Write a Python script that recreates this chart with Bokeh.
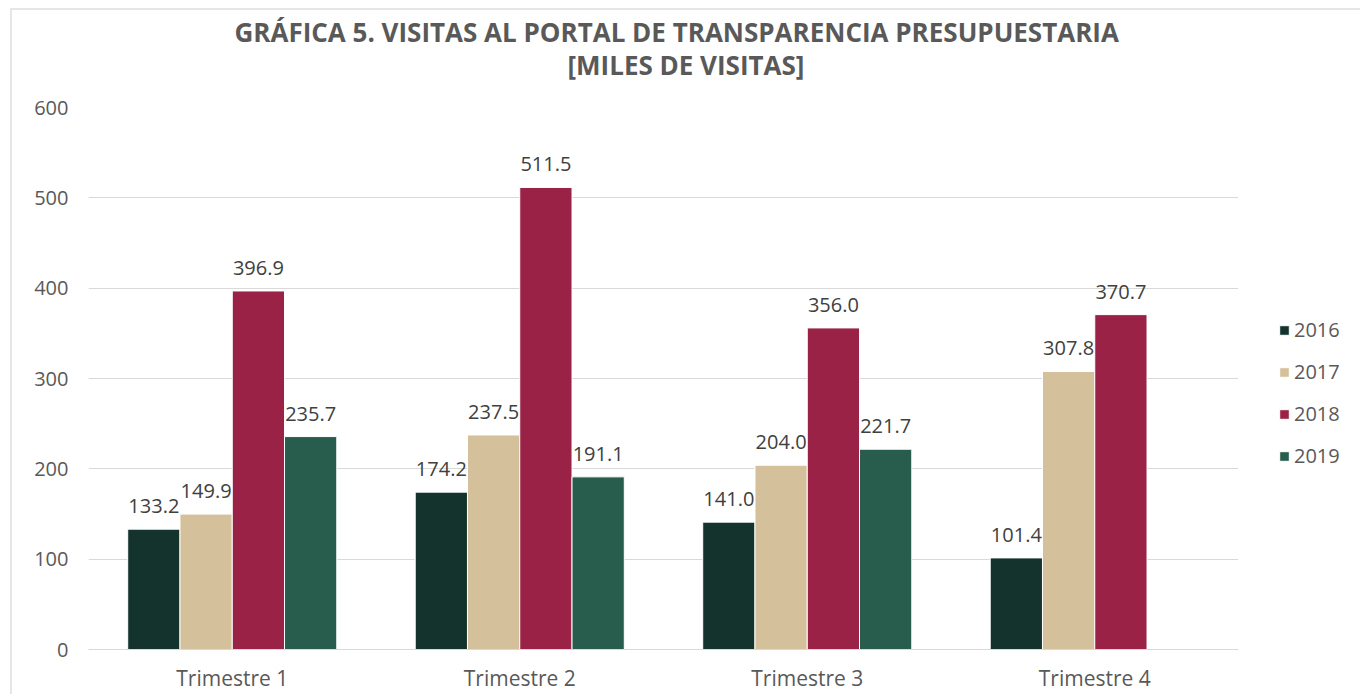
from bokeh.plotting import figure
from bokeh.models import ColumnDataSource, FactorRange, Legend, LegendItem, Title, FixedTicker, Range1d
from bokeh.transform import dodge
from bokeh.core.properties import value
from bokeh.embed import file_html
from bokeh.resources import INLINE

categories = ["Trimestre 1", "Trimestre 2", "Trimestre 3", "Trimestre 4"]
years = ["2016", "2017", "2018", "2019"]
v2016 = [133.2, 174.2, 141.0, 101.4]
v2017 = [149.9, 237.5, 204.0, 307.8]
v2018 = [396.9, 511.5, 356.0, 370.7]
v2019 = [235.7, 191.1, 221.7, None]
colors = ["#14332C", "#D4C19C", "#9B2247", "#285C4D"]
y_ticks = [0, 100, 200, 300, 400, 500, 600]

FONT = "Open Sans"
TXT = "#595959"

p = figure(x_range=FactorRange(*categories, range_padding=0), y_range=Range1d(0, 600),
           frame_width=1150, frame_height=542, output_backend="svg", toolbar_location=None,
           min_border_left=76, min_border_bottom=40, min_border_top=0, min_border_right=114)
p.styles = {"border-top": "2px solid #e6e6e6", "border-left": "2px solid #e6e6e6",
            "margin-left": "10px", "margin-top": "8px"}
p.outline_line_color = None
p.background_fill_color = "white"

series = [v2016, v2017, v2018, v2019]
offsets = [-0.2727, -0.0909, 0.0909, 0.2727]
bw = 0.1818
items = []
for yr, vals, col, off in zip(years, series, colors, offsets):
    cats = [c for c, v in zip(categories, vals) if v is not None]
    vs = [v for v in vals if v is not None]
    src = ColumnDataSource(dict(x=cats, y=vs, lab=["%.1f" % v for v in vs]))
    r = p.vbar(x=dodge("x", off, range=p.x_range), top="y", width=bw, source=src,
               fill_color=col, line_color="white", line_width=1)
    p.text(x=dodge("x", off, range=p.x_range), y="y", text="lab", source=src,
           text_align="center", text_baseline="middle", y_offset=-23,
           text_font_size="20px", text_color="#404040", text_font=value(FONT))
    items.append(LegendItem(label=yr, renderers=[r]))

legend = Legend(items=items, location=(40, 180), glyph_width=12, glyph_height=12,
                label_standoff=4, spacing=15, label_text_font_size="20px",
                label_text_color=TXT, label_text_font=FONT, border_line_color=None,
                padding=0, margin=0, label_height=24)
p.add_layout(legend, "right")

p.yaxis.ticker = FixedTicker(ticks=y_ticks)
p.yaxis.axis_line_color = None
p.yaxis.major_tick_line_color = None
p.yaxis.minor_tick_line_color = None
p.yaxis.major_label_standoff = 14
p.yaxis.major_label_text_font_size = "20px"
p.yaxis.major_label_text_color = TXT
p.yaxis.major_label_text_font = FONT

p.xaxis.axis_line_color = "#d9d9d9"
p.xaxis.major_tick_line_color = None
p.xaxis.minor_tick_line_color = None
p.xaxis.major_label_standoff = 8
p.xaxis.major_label_text_font_size = "21px"
p.xaxis.major_label_text_color = TXT
p.xaxis.major_label_text_font = FONT

p.xgrid.grid_line_color = None
p.ygrid.grid_line_color = "#d9d9d9"
p.ygrid.grid_line_width = 1

spacer = Title(text=" ", text_font_size="1px", standoff=22)
t2 = Title(text="[MILES DE VISITAS]", align="left", text_font_size="26px",
           text_font_style="bold", text_color=TXT, text_font=FONT, standoff=0, offset=479)
t1 = Title(text="GRÁFICA 5. VISITAS AL PORTAL DE TRANSPARENCIA PRESUPUESTARIA", align="left",
           text_font_size="26px", text_font_style="bold", text_color=TXT, text_font=FONT,
           standoff=-11, offset=146)
top_spacer = Title(text=" ", text_font_size="1px", standoff=4)
p.add_layout(spacer, "above")
p.add_layout(t2, "above")
p.add_layout(t1, "above")
p.add_layout(top_spacer, "above")

open("out.html", "w").write(file_html(p, INLINE))
